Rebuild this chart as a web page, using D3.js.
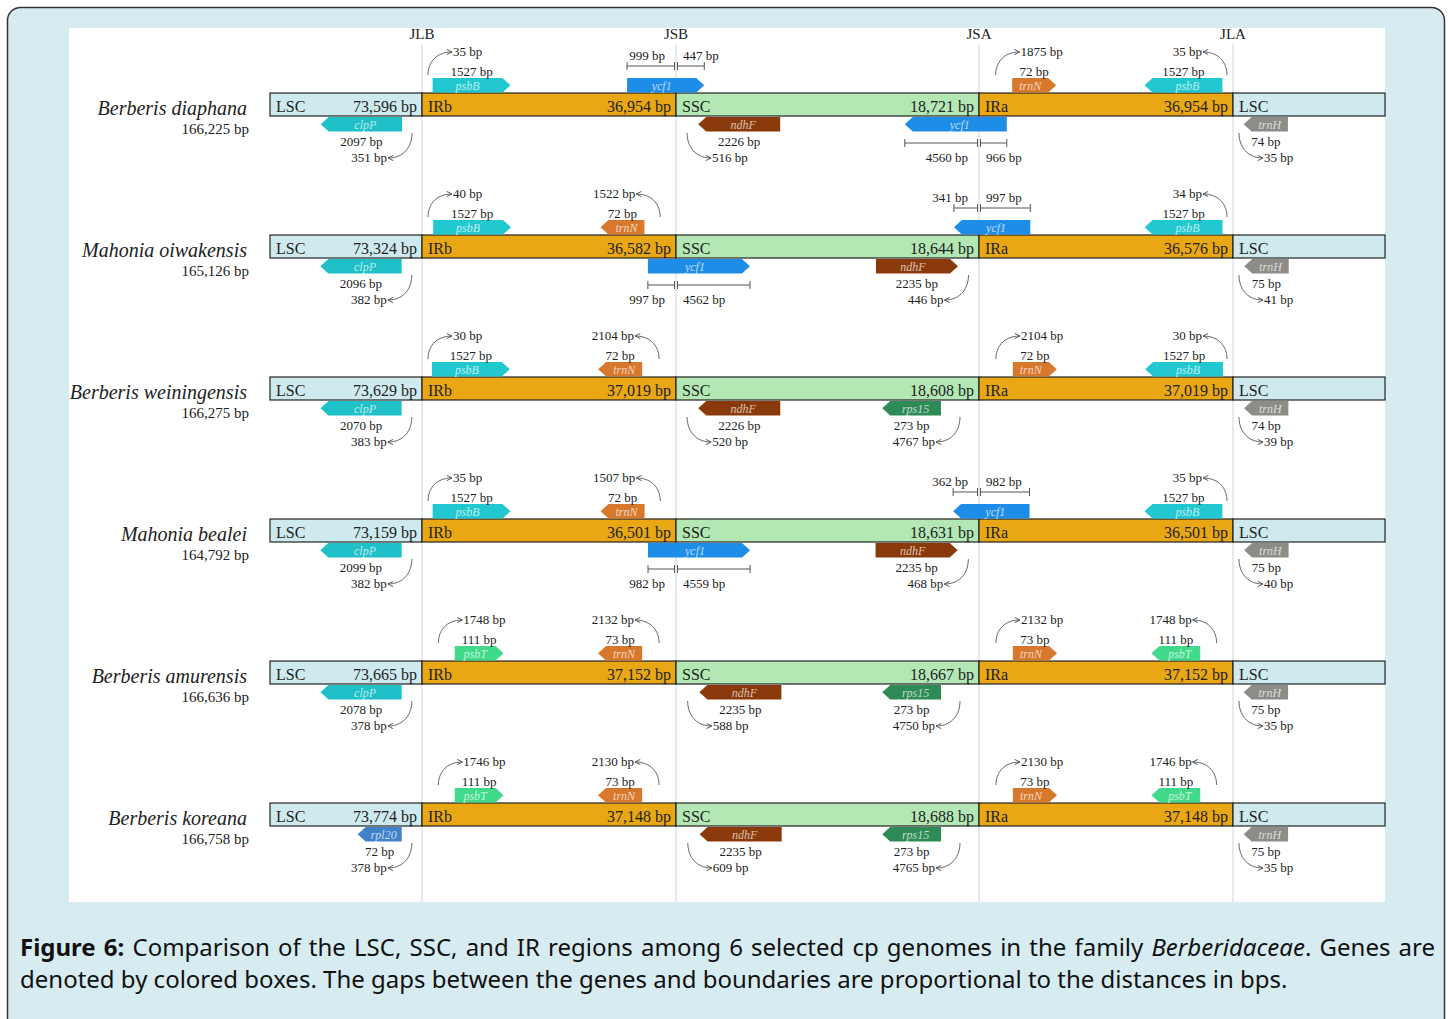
<!DOCTYPE html>
<html>
<head>
<meta charset="utf-8">
<script src="https://cdn.jsdelivr.net/npm/d3@7"></script>
<style>
  body { margin: 0; background: #fff; }
  #chart { position: absolute; left: 0; top: 0; }
</style>
</head>
<body>
<div id="chart"></div>
<script>
// Species and region lengths (bp)
const species = ['Berberis diaphana', 'Mahonia oiwakensis', 'Berberis weiningensis',
  'Mahonia bealei', 'Berberis amurensis', 'Berberis koreana'];
const genomeSize = [166225, 165126, 166275, 164792, 166636, 166758];
const lscLength = [73596, 73324, 73629, 73159, 73665, 73774];
const irbLength = [36954, 36582, 37019, 36501, 37152, 37148];
const sscLength = [18721, 18644, 18608, 18631, 18667, 18688];
const iraLength = [36954, 36576, 37019, 36501, 37152, 37148];
const junctions = ['JLB', 'JSB', 'JSA', 'JLA'];
const regionNames = ['LSC', 'IRb', 'SSC', 'IRa', 'LSC'];

// Genes next to a junction: row, gene, junction, side of junction, track, direction, length, gap to junction
const flankGenes = [
  [0, 'psbB', 'JLB', 'R', 'top', 1, 1527, 35],
  [0, 'clpP', 'JLB', 'L', 'bottom', -1, 2097, 351],
  [0, 'ndhF', 'JSB', 'R', 'bottom', -1, 2226, 516],
  [0, 'trnN', 'JSA', 'R', 'top', 1, 72, 1875],
  [0, 'psbB', 'JLA', 'L', 'top', -1, 1527, 35],
  [0, 'trnH', 'JLA', 'R', 'bottom', -1, 74, 35],

  [1, 'psbB', 'JLB', 'R', 'top', 1, 1527, 40],
  [1, 'clpP', 'JLB', 'L', 'bottom', -1, 2096, 382],
  [1, 'trnN', 'JSB', 'L', 'top', -1, 72, 1522],
  [1, 'ndhF', 'JSA', 'L', 'bottom', 1, 2235, 446],
  [1, 'psbB', 'JLA', 'L', 'top', -1, 1527, 34],
  [1, 'trnH', 'JLA', 'R', 'bottom', -1, 75, 41],

  [2, 'psbB', 'JLB', 'R', 'top', 1, 1527, 30],
  [2, 'clpP', 'JLB', 'L', 'bottom', -1, 2070, 383],
  [2, 'trnN', 'JSB', 'L', 'top', -1, 72, 2104],
  [2, 'ndhF', 'JSB', 'R', 'bottom', -1, 2226, 520],
  [2, 'rps15', 'JSA', 'L', 'bottom', -1, 273, 4767],
  [2, 'trnN', 'JSA', 'R', 'top', 1, 72, 2104],
  [2, 'psbB', 'JLA', 'L', 'top', -1, 1527, 30],
  [2, 'trnH', 'JLA', 'R', 'bottom', -1, 74, 39],

  [3, 'psbB', 'JLB', 'R', 'top', 1, 1527, 35],
  [3, 'clpP', 'JLB', 'L', 'bottom', -1, 2099, 382],
  [3, 'trnN', 'JSB', 'L', 'top', -1, 72, 1507],
  [3, 'ndhF', 'JSA', 'L', 'bottom', 1, 2235, 468],
  [3, 'psbB', 'JLA', 'L', 'top', -1, 1527, 35],
  [3, 'trnH', 'JLA', 'R', 'bottom', -1, 75, 40],

  [4, 'psbT', 'JLB', 'R', 'top', 1, 111, 1748],
  [4, 'clpP', 'JLB', 'L', 'bottom', -1, 2078, 378],
  [4, 'trnN', 'JSB', 'L', 'top', -1, 73, 2132],
  [4, 'ndhF', 'JSB', 'R', 'bottom', -1, 2235, 588],
  [4, 'rps15', 'JSA', 'L', 'bottom', -1, 273, 4750],
  [4, 'trnN', 'JSA', 'R', 'top', 1, 73, 2132],
  [4, 'psbT', 'JLA', 'L', 'top', -1, 111, 1748],
  [4, 'trnH', 'JLA', 'R', 'bottom', -1, 75, 35],

  [5, 'psbT', 'JLB', 'R', 'top', 1, 111, 1746],
  [5, 'rpl20', 'JLB', 'L', 'bottom', -1, 72, 378],
  [5, 'trnN', 'JSB', 'L', 'top', -1, 73, 2130],
  [5, 'ndhF', 'JSB', 'R', 'bottom', -1, 2235, 609],
  [5, 'rps15', 'JSA', 'L', 'bottom', -1, 273, 4765],
  [5, 'trnN', 'JSA', 'R', 'top', 1, 73, 2130],
  [5, 'psbT', 'JLA', 'L', 'top', -1, 111, 1746],
  [5, 'trnH', 'JLA', 'R', 'bottom', -1, 75, 35]
];

// Genes crossing a junction: row, gene, junction, track, direction, bp left, bp right
const spanGenes = [
  [0, 'ycf1', 'JSB', 'top', 1, 999, 447],
  [0, 'ycf1', 'JSA', 'bottom', -1, 4560, 966],
  [1, 'ycf1', 'JSB', 'bottom', 1, 997, 4562],
  [1, 'ycf1', 'JSA', 'top', -1, 341, 997],
  [3, 'ycf1', 'JSB', 'bottom', 1, 982, 4559],
  [3, 'ycf1', 'JSA', 'top', -1, 362, 982]
];

const captionLines = [
  [['Figure 6:', 'bold'], [' Comparison of the LSC, SSC, and IR regions among 6 selected cp genomes in the family ', ''],
   ['Berberidaceae', 'italic'], ['. Genes are', '']],
  [['denoted by colored boxes. The gaps between the genes and boundaries are proportional to the distances in bps.', '']]
];

const serif = "'Liberation Serif', 'Times New Roman', serif";
const fmt = d3.format(',');

let svgWidth = 1448;
let svgHeight = 1019;

let svg = d3.select('#chart').append('svg')
  .attr('width', svgWidth)
  .attr('height', svgHeight);

// frame and white panel
svg.append('rect')
  .attr('x', 7.5).attr('y', 7.5)
  .attr('width', 1437).attr('height', 1040)
  .attr('rx', 13)
  .attr('fill', '#d7ecf1')
  .attr('stroke', '#333')
  .attr('stroke-width', 1.5);

svg.append('rect')
  .attr('x', 69).attr('y', 28)
  .attr('width', 1316).attr('height', 874)
  .attr('fill', '#fff');

// scales
let junctionX = d3.scaleOrdinal()
  .domain(['start', 'JLB', 'JSB', 'JSA', 'JLA', 'end'])
  .range([270, 422, 676, 979, 1233, 1385]);

let rowY = d3.scalePoint()
  .domain(d3.range(species.length))
  .range([93, 803]);

let barH = 23;

// gene widths and gaps are drawn on compressed (log) scales
let widthScale = d3.scaleLog().domain([72, 2226, 5526]).range([44, 82, 102]);
let gapScale = d3.scaleLog().domain([30, 450, 1800, 4760]).range([10, 21, 33, 38]);
let splitScale = d3.scaleLinear().domain([0, 1]).range([0.15, 0.85]);

let geneColor = d3.scaleOrdinal()
  .domain(['psbB', 'clpP', 'ycf1', 'ndhF', 'trnN', 'trnH', 'rps15', 'psbT', 'rpl20'])
  .range(['#22c8d0', '#1fc0c8', '#1e8de8', '#8a3a0a', '#d8782c', '#8d8c87', '#2e8a57', '#40da8a', '#3f82c8']);

let regionColor = d3.scaleOrdinal()
  .domain(['LSC', 'IRb', 'SSC', 'IRa'])
  .range(['#cfeaee', '#e9a714', '#b3e8b4', '#e9a714']);

// arrow marker
svg.append('defs').append('marker')
  .attr('id', 'arr')
  .attr('viewBox', '0 0 8 8')
  .attr('refX', 7).attr('refY', 4)
  .attr('markerWidth', 7).attr('markerHeight', 7)
  .attr('markerUnits', 'userSpaceOnUse')
  .attr('orient', 'auto')
  .append('path')
  .attr('d', 'M1,1 L7,4 L1,7')
  .attr('fill', 'none')
  .attr('stroke', '#444')
  .attr('stroke-width', 1);

// junction lines and labels
let jGroup = svg.append('g');
jGroup.selectAll('line')
  .data(junctions)
  .enter()
  .append('line')
  .attr('x1', d => junctionX(d)).attr('x2', d => junctionX(d))
  .attr('y1', 44).attr('y2', 902)
  .attr('stroke', '#d4d4d4')
  .attr('stroke-width', 1);

jGroup.selectAll('text')
  .data(junctions)
  .enter()
  .append('text')
  .attr('x', d => junctionX(d))
  .attr('y', 39)
  .attr('text-anchor', 'middle')
  .attr('font-family', serif)
  .attr('font-size', 15)
  .attr('fill', '#222')
  .text(d => d);

function genePath(x0, x1, y0, y1, dir) {
  let t = Math.min(8, (x1 - x0) / 3);
  let ym = (y0 + y1) / 2;
  if (dir > 0) {
    return `M${x0},${y0}H${x1 - t}L${x1},${ym}L${x1 - t},${y1}H${x0}Z`;
  }
  return `M${x1},${y0}H${x0 + t}L${x0},${ym}L${x0 + t},${y1}H${x1}Z`;
}

function drawGene(g, name, x0, x1, track, dir, top) {
  let y0 = track === 'top' ? top - 15 : top + barH + 1;
  let y1 = y0 + 14.5;
  let t = Math.min(8, (x1 - x0) / 3);
  g.append('path')
    .attr('d', genePath(x0, x1, y0, y1, dir))
    .attr('fill', geneColor(name));
  g.append('text')
    .attr('x', dir > 0 ? (x0 + x1 - t) / 2 : (x0 + t + x1) / 2)
    .attr('y', y1 - 3)
    .attr('text-anchor', 'middle')
    .attr('font-family', serif)
    .attr('font-style', 'italic')
    .attr('font-size', 12)
    .attr('fill', '#fff')
    .attr('fill-opacity', 0.7)
    .text(name);
}

function label(g, x, y, anchor, txt) {
  g.append('text')
    .attr('x', x).attr('y', y)
    .attr('text-anchor', anchor)
    .attr('font-family', serif)
    .attr('font-size', 13)
    .attr('fill', '#222')
    .text(txt);
}

species.forEach(function(name, i) {
  let top = rowY(i);
  let row = svg.append('g');

  // species name and genome size
  row.append('text')
    .attr('x', 247).attr('y', top + 22)
    .attr('text-anchor', 'end')
    .attr('font-family', serif)
    .attr('font-style', 'italic')
    .attr('font-size', 20)
    .attr('fill', '#222')
    .text(name);
  row.append('text')
    .attr('x', 249).attr('y', top + 41)
    .attr('text-anchor', 'end')
    .attr('font-family', serif)
    .attr('font-size', 15)
    .attr('fill', '#222')
    .text(fmt(genomeSize[i]) + ' bp');

  // regions
  let edges = junctionX.domain();
  let lengths = [lscLength[i], irbLength[i], sscLength[i], iraLength[i], null];
  regionNames.forEach(function(r, k) {
    let xa = junctionX(edges[k]);
    let xb = junctionX(edges[k + 1]);
    row.append('rect')
      .attr('x', xa).attr('y', top)
      .attr('width', xb - xa).attr('height', barH)
      .attr('fill', regionColor(r))
      .attr('stroke', '#222')
      .attr('stroke-width', 1.2);
    row.append('text')
      .attr('x', xa + 6).attr('y', top + 19)
      .attr('font-family', serif)
      .attr('font-size', 16)
      .attr('fill', '#222')
      .text(r);
    if (lengths[k]) {
      row.append('text')
        .attr('x', xb - 5).attr('y', top + 19)
        .attr('text-anchor', 'end')
        .attr('font-family', serif)
        .attr('font-size', 16)
        .attr('fill', '#222')
        .text(fmt(lengths[k]) + ' bp');
    }
  });

  // genes beside junctions
  flankGenes.filter(d => d[0] === i).forEach(function(d) {
    let [, gene, junc, side, track, dir, len, gap] = d;
    let J = junctionX(junc);
    let s = side === 'R' ? 1 : -1;
    let near = J + s * gapScale(gap);
    let far = near + s * widthScale(len);
    let x0 = Math.min(near, far), x1 = Math.max(near, far);
    drawGene(row, gene, x0, x1, track, dir, top);

    let isTop = track === 'top';
    let bottom = top + barH;
    // gene length label
    label(row, (x0 + x1) / 2, isTop ? top - 17 : bottom + 30, 'middle', len + ' bp');

    // curved arrow to the gap label
    let bx = J + s * Math.max(6, gapScale(gap) / 2);
    let by = isTop ? top - 18 : bottom + 17;
    let tx = bx + s * 24;
    let ty = isTop ? top - 41 : bottom + 42;
    row.append('path')
      .attr('d', `M${bx},${by}C${bx},${by + (ty - by) * 0.5} ${bx + (tx - bx) * 0.3},${ty} ${tx},${ty}`)
      .attr('fill', 'none')
      .attr('stroke', '#555')
      .attr('stroke-width', 0.9)
      .attr('marker-end', 'url(#arr)');
    label(row, tx + s * 1, ty + 4, s > 0 ? 'start' : 'end', gap + ' bp');
  });

  // genes across junctions
  spanGenes.filter(d => d[0] === i).forEach(function(d) {
    let [, gene, junc, track, dir, leftBp, rightBp] = d;
    let J = junctionX(junc);
    let total = widthScale(leftBp + rightBp);
    let leftW = total * splitScale(leftBp / (leftBp + rightBp));
    let x0 = J - leftW;
    let x1 = x0 + total;
    drawGene(row, gene, x0, x1, track, dir, top);

    let isTop = track === 'top';
    let bottom = top + barH;
    let dy = isTop ? top - 27 : bottom + 27;
    let dim = row.append('g')
      .attr('stroke', '#555')
      .attr('stroke-width', 1);
    dim.append('line').attr('x1', x0).attr('x2', J - 1.5).attr('y1', dy).attr('y2', dy);
    dim.append('line').attr('x1', J + 1.5).attr('x2', x1).attr('y1', dy).attr('y2', dy);
    [x0, J - 1.5, J + 1.5, x1].forEach(function(x) {
      dim.append('line').attr('x1', x).attr('x2', x).attr('y1', dy - 4).attr('y2', dy + 4);
    });
    let ly = isTop ? top - 33 : bottom + 46;
    label(row, J - 11, ly, 'end', leftBp + ' bp');
    label(row, J + 7, ly, 'start', rightBp + ' bp');
  });
});

// caption, first line justified to the full width
let capLeft = 20, capWidth = 1415;
captionLines.forEach(function(parts, li) {
  let t = svg.append('text')
    .attr('x', capLeft)
    .attr('y', 956 + li * 32)
    .attr('font-family', "'Noto Sans', sans-serif")
    .attr('font-size', 24)
    .attr('fill', '#111');
  parts.forEach(function(p) {
    t.append('tspan')
      .attr('font-weight', p[1] === 'bold' ? 700 : null)
      .attr('font-style', p[1] === 'italic' ? 'italic' : null)
      .text(p[0]);
  });
  if (li === 0) {
    let natural = t.node().getComputedTextLength();
    let spaces = parts.map(p => p[0]).join('').split(' ').length - 1;
    t.attr('word-spacing', (capWidth - natural) / spaces);
  }
});
</script>
</body>
</html>
